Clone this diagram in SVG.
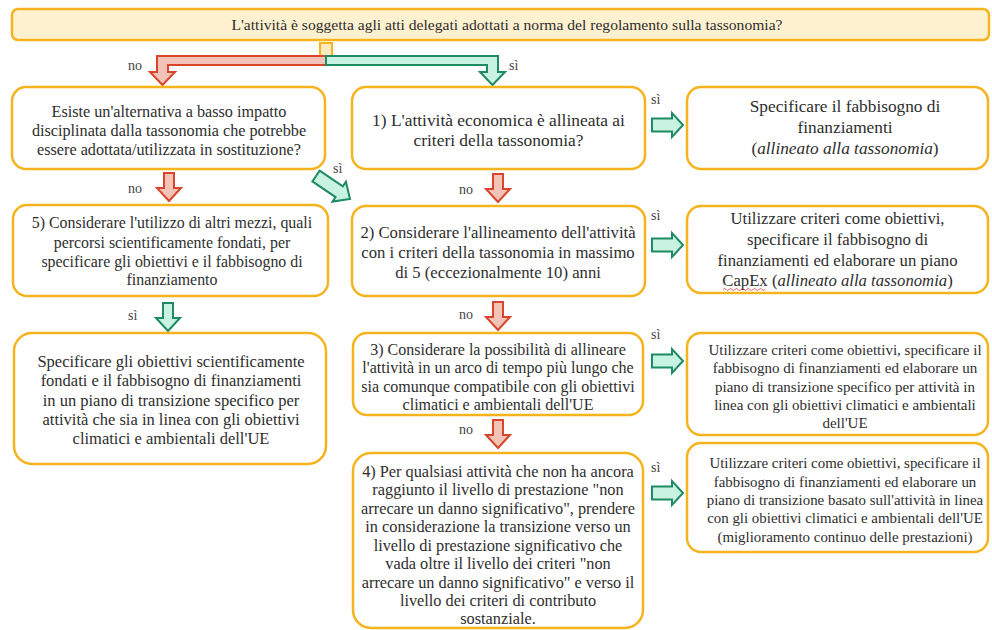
<svg xmlns="http://www.w3.org/2000/svg" width="992" height="630" viewBox="0 0 992 630">
<defs>
<style>
.box{fill:#fff;stroke:#f5b41e;stroke-width:2.5}
.top{fill:#fdf1cf;stroke:#f5b41e;stroke-width:2.5}
text{font-family:"Liberation Serif","Times New Roman",serif;fill:#2e2e2e;text-anchor:middle}
.lbl{font-size:14px;fill:#444;text-anchor:start}
.red{fill:#f4c3b8;stroke:#d7452a;stroke-width:2;stroke-linejoin:miter}
.grn{fill:#c8f2e1;stroke:#1f8b62;stroke-width:2;stroke-linejoin:miter}
</style>
<polygon id="down" points="-5,0 5,0 5,15 12,15 0,28 -12,15 -5,15"/>
<polygon id="right" points="0,-6.5 20,-6.5 20,-12 31,0 20,12 20,6.5 0,6.5"/>
<polygon id="diag" points="0,-6.5 28,-6.5 28,-12 41,0 28,12 28,6.5 0,6.5"/>
</defs>

<g id="connectors">
  <rect x="320" y="43" width="12" height="13" fill="#fbeac0" stroke="#f5b41e" stroke-width="2"/>
  <path class="red" d="M326,56 L157,56 L157,72 L150,72 L162.5,85 L175,72 L168,72 L168,65 L326,65 Z"/>
  <path class="grn" d="M326,56 L498,56 L498,72 L505,72 L492.5,85 L480,72 L487,72 L487,65 L326,65 Z"/>
  <text class="lbl" x="128" y="70">no</text>
  <text class="lbl" x="509" y="70">sì</text>

  <use href="#down" class="red" transform="translate(169,173)"/>
  <text class="lbl" x="128" y="193">no</text>
  <use href="#diag" class="grn" transform="translate(316,176) rotate(34)"/>
  <text class="lbl" x="333" y="173">sì</text>

  <use href="#down" class="red" transform="translate(498,174)"/>
  <text class="lbl" x="459" y="194">no</text>
  <use href="#down" class="red" transform="translate(498,302)"/>
  <text class="lbl" x="459" y="319">no</text>
  <use href="#down" class="red" transform="translate(498,420)"/>
  <text class="lbl" x="459" y="434">no</text>

  <use href="#down" class="grn" transform="translate(168,303)"/>
  <text class="lbl" x="128" y="320">sì</text>

  <use href="#right" class="grn" transform="translate(652,125)"/>
  <text class="lbl" x="651" y="104">sì</text>
  <use href="#right" class="grn" transform="translate(652,245)"/>
  <text class="lbl" x="651" y="220">sì</text>
  <use href="#right" class="grn" transform="translate(652,361)"/>
  <text class="lbl" x="651" y="339">sì</text>
  <use href="#right" class="grn" transform="translate(652,493)"/>
  <text class="lbl" x="651" y="472">sì</text>
</g>

<g id="q-top">
  <rect class="top" x="12" y="9" width="977" height="31" rx="6"/>
  <text x="507" y="30" font-size="15.6">L'attività è soggetta agli atti delegati adottati a norma del regolamento sulla tassonomia?</text>
</g>

<g id="q-alt">
  <rect class="box" x="12" y="87" width="313" height="82" rx="14"/>
  <text font-size="16.2"><tspan x="169" y="117">Esiste un'alternativa a basso impatto</tspan><tspan x="169" y="136">disciplinata dalla tassonomia che potrebbe</tspan><tspan x="169" y="155">essere adottata/utilizzata in sostituzione?</tspan></text>
</g>

<g id="q1">
  <rect class="box" x="352" y="87" width="293" height="82" rx="14"/>
  <text font-size="17.4"><tspan x="498.5" y="126">1) L'attività economica è allineata ai</tspan><tspan x="498.5" y="146">criteri della tassonomia?</tspan></text>
</g>

<g id="r1">
  <rect class="box" x="687" y="87" width="301" height="82" rx="14"/>
  <text font-size="17.3"><tspan x="845" y="112">Specificare il fabbisogno di</tspan><tspan x="845" y="133">finanziamenti</tspan><tspan x="845" y="154">(<tspan font-style="italic">allineato alla tassonomia</tspan>)</tspan></text>
</g>

<g id="q5">
  <rect class="box" x="13" y="205" width="315" height="91" rx="14"/>
  <text font-size="15.9"><tspan x="172" y="228">5) Considerare l'utilizzo di altri mezzi, quali</tspan><tspan x="172" y="248">percorsi scientificamente fondati, per</tspan><tspan x="172" y="267">specificare gli obiettivi e il fabbisogno di</tspan><tspan x="172" y="285">finanziamento</tspan></text>
</g>

<g id="r5">
  <rect class="box" x="14" y="333" width="312" height="131" rx="18"/>
  <text font-size="16.5"><tspan x="171" y="367">Specificare gli obiettivi scientificamente</tspan><tspan x="171" y="386">fondati e il fabbisogno di finanziamenti</tspan><tspan x="171" y="406">in un piano di transizione specifico per</tspan><tspan x="171" y="425">attività che sia in linea con gli obiettivi</tspan><tspan x="171" y="444">climatici e ambientali dell'UE</tspan></text>
</g>

<g id="q2">
  <rect class="box" x="352" y="206" width="293" height="90" rx="14"/>
  <text font-size="16.7"><tspan x="498" y="238">2) Considerare l'allineamento dell'attività</tspan><tspan x="498" y="258">con i criteri della tassonomia in massimo</tspan><tspan x="498" y="278">di 5 (eccezionalmente 10) anni</tspan></text>
</g>

<g id="r2">
  <rect class="box" x="687" y="206" width="301" height="87" rx="14"/>
  <text font-size="16.7"><tspan x="837.5" y="224">Utilizzare criteri come obiettivi,</tspan><tspan x="837.5" y="245">specificare il fabbisogno di</tspan><tspan x="837.5" y="266">finanziamenti ed elaborare un piano</tspan><tspan x="837.5" y="286">CapEx (<tspan font-style="italic">allineato alla tassonomia</tspan>)</tspan></text>
  <path d="M723,289.5 q1.5,-2 3,0 t3,0 t3,0 t3,0 t3,0 t3,0 t3,0 t3,0 t3,0 t3,0 t3,0 t3,0 t3,0 t3,0" fill="none" stroke="#e04040" stroke-width="0.8"/>
</g>

<g id="q3">
  <rect class="box" x="353" y="333" width="290" height="82" rx="14"/>
  <text font-size="16"><tspan x="498" y="355">3) Considerare la possibilità di allineare</tspan><tspan x="498" y="373">l'attività in un arco di tempo più lungo che</tspan><tspan x="498" y="392">sia comunque compatibile con gli obiettivi</tspan><tspan x="498" y="410">climatici e ambientali dell'UE</tspan></text>
</g>

<g id="r3">
  <rect class="box" x="687" y="333" width="301" height="102" rx="14"/>
  <text font-size="15"><tspan x="845" y="355">Utilizzare criteri come obiettivi, specificare il</tspan><tspan x="845" y="373">fabbisogno di finanziamenti ed elaborare un</tspan><tspan x="845" y="392">piano di transizione specifico per attività in</tspan><tspan x="845" y="410">linea con gli obiettivi climatici e ambientali</tspan><tspan x="845" y="428">dell'UE</tspan></text>
</g>

<g id="q4">
  <rect class="box" x="353" y="453" width="290" height="175" rx="18"/>
  <text font-size="16.3"><tspan x="498" y="477">4) Per qualsiasi attività che non ha ancora</tspan><tspan x="498" y="495">raggiunto il livello di prestazione "non</tspan><tspan x="498" y="514">arrecare un danno significativo", prendere</tspan><tspan x="498" y="532">in considerazione la transizione verso un</tspan><tspan x="498" y="551">livello di prestazione significativo che</tspan><tspan x="498" y="569">vada oltre il livello dei criteri "non</tspan><tspan x="498" y="588">arrecare un danno significativo" e verso il</tspan><tspan x="498" y="606">livello dei criteri di contributo</tspan><tspan x="498" y="624">sostanziale.</tspan></text>
</g>

<g id="r4">
  <rect class="box" x="687" y="443" width="301" height="109" rx="14"/>
  <text font-size="14.9"><tspan x="845" y="468">Utilizzare criteri come obiettivi, specificare il</tspan><tspan x="845" y="487">fabbisogno di finanziamenti ed elaborare un</tspan><tspan x="845" y="505">piano di transizione basato sull'attività in linea</tspan><tspan x="845" y="523">con gli obiettivi climatici e ambientali dell'UE</tspan><tspan x="845" y="542">(miglioramento continuo delle prestazioni)</tspan></text>
</g>
</svg>
